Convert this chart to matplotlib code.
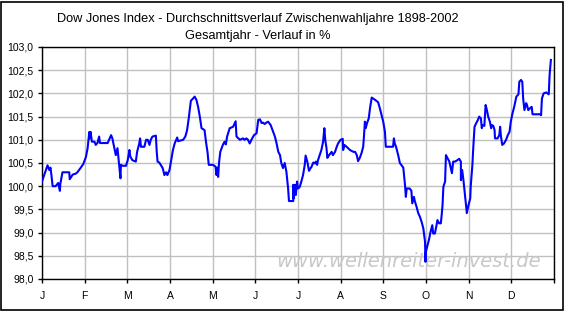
import matplotlib.pyplot as plt
from matplotlib.patches import Rectangle
from matplotlib.ticker import FuncFormatter

plt.rcParams['font.family'] = ['Liberation Sans', 'DejaVu Sans']

title = 'Dow Jones Index - Durchschnittsverlauf Zwischenwahljahre 1898-2002\nGesamtjahr - Verlauf in %'
month_labels = ['J', 'F', 'M', 'A', 'M', 'J', 'J', 'A', 'S', 'O', 'N', 'D']
watermark = 'www.wellenreiter-invest.de'

# position in the year (months since 1 January) and average index level in %
month_pos = [
    0.00, 0.13, 0.17, 0.20, 0.22, 0.25, 0.32, 0.38, 0.42, 0.43, 0.48, 0.64, 0.65, 0.72, 0.79, 0.83,
    0.91, 0.97, 1.03, 1.07, 1.11, 1.12, 1.14, 1.17, 1.23, 1.26, 1.30, 1.34, 1.36, 1.54, 1.62, 1.65,
    1.69, 1.73, 1.77, 1.81, 1.84, 1.85, 1.89, 1.97, 2.01, 2.05, 2.07, 2.12, 2.20, 2.23, 2.28, 2.30,
    2.32, 2.40, 2.44, 2.48, 2.52, 2.55, 2.59, 2.67, 2.69, 2.71, 2.75, 2.83, 2.87, 2.91, 2.94, 2.99,
    3.03, 3.07, 3.11, 3.17, 3.19, 3.31, 3.36, 3.40, 3.44, 3.49, 3.54, 3.58, 3.62, 3.66, 3.70, 3.74,
    3.81, 3.85, 3.88, 3.91, 4.01, 4.07, 4.09, 4.11, 4.13, 4.15, 4.18, 4.24, 4.28, 4.31, 4.34, 4.40,
    4.48, 4.54, 4.56, 4.64, 4.71, 4.75, 4.79, 4.83, 4.87, 4.91, 4.97, 5.03, 5.07, 5.11, 5.15, 5.18,
    5.22, 5.26, 5.30, 5.36, 5.42, 5.46, 5.50, 5.54, 5.58, 5.61, 5.65, 5.69, 5.73, 5.77, 5.79, 5.89,
    5.89, 5.90, 5.93, 5.95, 5.98, 6.00, 6.04, 6.08, 6.12, 6.16, 6.18, 6.22, 6.26, 6.29, 6.32, 6.36,
    6.40, 6.42, 6.45, 6.47, 6.51, 6.55, 6.59, 6.62, 6.64, 6.67, 6.69, 6.73, 6.79, 6.82, 6.87, 6.91,
    6.94, 7.00, 7.05, 7.06, 7.09, 7.14, 7.22, 7.30, 7.34, 7.38, 7.41, 7.45, 7.49, 7.53, 7.55, 7.57,
    7.59, 7.62, 7.66, 7.69, 7.71, 7.73, 7.81, 7.88, 7.92, 7.96, 8.00, 8.04, 8.06, 8.16, 8.23, 8.25,
    8.27, 8.30, 8.35, 8.39, 8.47, 8.51, 8.53, 8.55, 8.62, 8.66, 8.68, 8.72, 8.74, 8.78, 8.82, 8.86,
    8.90, 8.94, 8.96, 8.98, 8.99, 9.00, 9.03, 9.07, 9.11, 9.15, 9.17, 9.21, 9.25, 9.27, 9.31, 9.35,
    9.37, 9.39, 9.41, 9.45, 9.47, 9.51, 9.55, 9.61, 9.64, 9.68, 9.72, 9.78, 9.82, 9.82, 9.85, 9.88,
    9.90, 9.93, 9.96, 9.99, 10.04, 10.05, 10.09, 10.11, 10.14, 10.18, 10.22, 10.25, 10.29, 10.31, 10.33, 10.37,
    10.40, 10.43, 10.46, 10.50, 10.53, 10.54, 10.58, 10.61, 10.62, 10.68, 10.72, 10.74, 10.76, 10.79, 10.83, 10.88,
    10.92, 10.96, 10.99, 11.03, 11.07, 11.12, 11.17, 11.19, 11.23, 11.26, 11.28, 11.31, 11.35, 11.37, 11.40, 11.44,
    11.48, 11.50, 11.56, 11.68, 11.70, 11.72, 11.76, 11.82, 11.88, 11.90, 11.93,
]
index_pct = [
    100.10, 100.45, 100.35, 100.40, 100.25, 100.00, 100.00, 100.07, 99.90, 100.05, 100.30, 100.30, 100.15, 100.25, 100.27, 100.30,
    100.40, 100.48, 100.63, 100.82, 101.17, 101.03, 101.17, 100.96, 100.96, 100.89, 100.93, 101.07, 100.93, 100.93, 101.10, 101.03,
    100.85, 100.67, 100.82, 100.46, 100.17, 100.46, 100.44, 100.44, 100.56, 100.78, 100.64, 100.56, 100.53, 100.74, 100.92, 101.03,
    100.85, 100.85, 101.00, 101.00, 100.89, 101.00, 101.07, 101.09, 100.74, 100.53, 100.51, 100.39, 100.24, 100.30, 100.24, 100.35,
    100.56, 100.78, 100.92, 101.05, 100.97, 101.00, 101.07, 101.20, 101.46, 101.84, 101.89, 101.93, 101.86, 101.71, 101.50, 101.25,
    101.21, 100.92, 100.74, 100.46, 100.46, 100.42, 100.24, 100.40, 100.20, 100.50, 100.74, 100.89, 100.96, 100.90, 101.07, 101.25,
    101.28, 101.40, 101.07, 101.00, 101.03, 101.00, 101.03, 101.00, 100.92, 101.00, 101.10, 101.14, 101.43, 101.44, 101.36, 101.37,
    101.34, 101.37, 101.39, 101.32, 101.17, 101.07, 100.92, 100.74, 100.67, 100.50, 100.39, 100.50, 100.31, 99.95, 99.68, 99.68,
    100.03, 99.74, 100.03, 99.81, 100.10, 99.95, 99.98, 100.10, 100.24, 100.46, 100.66, 100.53, 100.33, 100.38, 100.42, 100.51,
    100.49, 100.53, 100.46, 100.56, 100.67, 100.78, 100.96, 101.25, 101.00, 100.82, 100.61, 100.67, 100.74, 100.67, 100.74, 100.85,
    100.92, 101.00, 101.02, 100.78, 100.89, 100.85, 100.78, 100.74, 100.74, 100.67, 100.54, 100.61, 100.71, 100.85, 101.10, 101.39,
    101.25, 101.36, 101.46, 101.68, 101.79, 101.91, 101.86, 101.81, 101.68, 101.53, 101.39, 101.17, 100.85, 100.85, 100.85, 101.03,
    100.92, 100.85, 100.67, 100.50, 100.40, 100.03, 99.77, 99.95, 99.95, 99.90, 99.63, 99.77, 99.68, 99.56, 99.42, 99.34,
    99.23, 99.09, 98.95, 98.80, 98.37, 98.59, 98.70, 98.84, 99.02, 99.16, 98.98, 98.98, 99.16, 99.27, 99.20, 99.20,
    99.38, 99.59, 99.99, 100.10, 100.67, 100.60, 100.53, 100.28, 100.53, 100.53, 100.55, 100.59, 100.53, 100.13, 100.35, 100.13,
    99.95, 99.67, 99.42, 99.56, 99.74, 99.99, 100.46, 100.82, 101.28, 101.36, 101.43, 101.50, 101.46, 101.25, 101.32, 101.30,
    101.75, 101.64, 101.50, 101.39, 101.25, 101.32, 101.30, 101.21, 101.03, 101.03, 101.10, 101.28, 101.07, 100.89, 100.92, 101.00,
    101.10, 101.17, 101.39, 101.57, 101.71, 101.93, 101.98, 102.25, 102.29, 102.25, 101.89, 101.64, 101.79, 101.75, 101.64, 101.68,
    101.71, 101.55, 101.55, 101.55, 101.53, 101.89, 102.00, 102.02, 101.98, 102.40, 102.72,
]

fig = plt.figure(figsize=(5.65, 3.11), dpi=100)
ax = fig.add_axes([0.0743, 0.1029, 0.906, 0.746])

ax.plot(month_pos, index_pct, color='#0000ff', linewidth=1.5, zorder=3)

ax.set_xlim(0, 12)
ax.set_ylim(98, 103)
ax.set_xticks(range(13))
ax.set_xticklabels(month_labels + [''])
ax.set_yticks([98 + 0.5 * i for i in range(11)])
ax.yaxis.set_major_formatter(FuncFormatter(lambda v, p: f'{v:.1f}'.replace('.', ',')))
ax.grid(True, color='#c0c0c0', linewidth=1.0)
ax.set_axisbelow(True)
for s in ax.spines.values():
    s.set_color('black')
    s.set_linewidth(1.0)
ax.tick_params(axis='both', direction='out', length=3, width=1, labelsize=7.5, colors='black')
ax.tick_params(axis='x', pad=6)
ax.tick_params(axis='y', pad=3)

fig.text(0.457, 0.912, title, ha='center', va='center', fontsize=9.2, linespacing=1.55)
ax.text(0.975, 0.075, watermark, transform=ax.transAxes, ha='right', va='center',
        fontsize=14, style='italic', color='#c8c8c8', family=['DejaVu Sans'], zorder=2)

fig.add_artist(Rectangle((0.002, 0.004), 0.995, 0.99, transform=fig.transFigure,
                         fill=False, edgecolor='black', linewidth=1.2))

fig.savefig('out.png', dpi=100)
